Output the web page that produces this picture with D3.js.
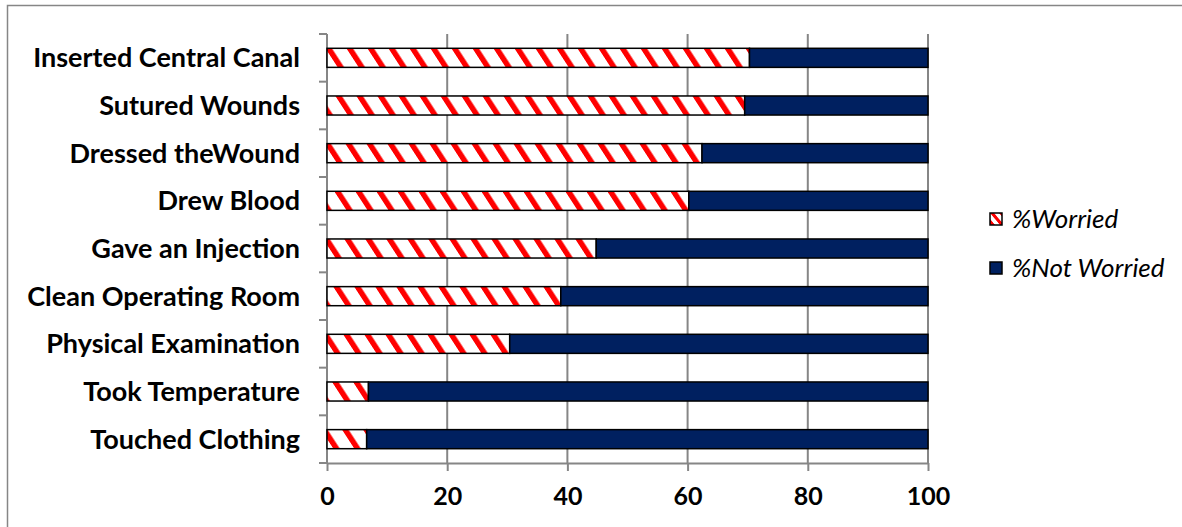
<!DOCTYPE html>
<html>
<head>
<meta charset="utf-8">
<script src="https://cdn.jsdelivr.net/npm/d3@7"></script>
<style>
  html, body { margin: 0; padding: 0; background: #fff; }
  svg { display: block; }
</style>
</head>
<body>
<div id="chart"></div>
<script>
// Procedures, listed top to bottom
const categories = [
  "Inserted Central Canal",
  "Sutured Wounds",
  "Dressed theWound",
  "Drew Blood",
  "Gave an Injection",
  "Clean Operating Room",
  "Physical Examination",
  "Took Temperature",
  "Touched Clothing"
];
// Share of respondents worried / not worried (%)
const worried    = [70.3, 69.5, 62.4, 60.2, 44.8, 38.9, 30.4, 6.9, 6.6];
const notWorried = [29.7, 30.5, 37.6, 39.8, 55.2, 61.1, 69.6, 93.1, 93.4];
const seriesNames = ["%Worried", "%Not Worried"];
const xTicks = [0, 20, 40, 60, 80, 100];

const W = 1182, H = 527;
const margin = { left: 327, right: 254, top: 34, bottom: 64 };
const navy = "#002060";
const gridColor = "#868686";
const font = "Lato, 'Open Sans', sans-serif";

const svg = d3.select("#chart").append("svg")
  .attr("width", W).attr("height", H);

// hatched fill for the worried share
const defs = svg.append("defs");
const pat = defs.append("pattern")
  .attr("id", "hatch")
  .attr("patternUnits", "userSpaceOnUse")
  .attr("width", 21).attr("height", 21)
  .attr("patternTransform", "skewX(33)");
pat.append("rect").attr("width", 21).attr("height", 21).attr("fill", "#fff");
pat.append("rect").attr("x", 0).attr("width", 6.5).attr("height", 21).attr("fill", "#ff0000");

const legPat = defs.append("pattern")
  .attr("id", "hatchLegend")
  .attr("patternUnits", "userSpaceOnUse")
  .attr("width", 9).attr("height", 9)
  .attr("patternTransform", "translate(990,213) skewX(40)");
legPat.append("rect").attr("width", 9).attr("height", 9).attr("fill", "#fff");
legPat.append("rect").attr("x", 0).attr("width", 4).attr("height", 9).attr("fill", "#ff0000");

// outer frame
svg.append("rect")
  .attr("x", 7.5).attr("y", 5.5)
  .attr("width", W).attr("height", H)
  .attr("fill", "none").attr("stroke", gridColor).attr("stroke-width", 1.5);

const x = d3.scaleLinear().domain([0, 100]).range([margin.left, W - margin.right]);
const y = d3.scaleBand().domain(categories)
  .range([margin.top, H - margin.bottom])
  .paddingInner(0.6).paddingOuter(0.3);

const plotTop = margin.top, plotBottom = H - margin.bottom;

// vertical gridlines
svg.append("g").selectAll("line")
  .data(xTicks.filter(d => d > 0))
  .join("line")
  .attr("x1", d => x(d)).attr("x2", d => x(d))
  .attr("y1", plotTop).attr("y2", plotBottom)
  .attr("stroke", gridColor).attr("stroke-width", 2);

// bottom axis
const xAxis = svg.append("g")
  .attr("transform", `translate(0,${plotBottom})`)
  .call(d3.axisBottom(x).tickValues(xTicks).tickSize(8).tickSizeOuter(0));
xAxis.select(".domain").attr("stroke", gridColor).attr("stroke-width", 2);
xAxis.selectAll(".tick line").attr("stroke", gridColor).attr("stroke-width", 2);
xAxis.selectAll(".tick text")
  .attr("fill", "#000")
  .attr("y", 33).attr("dy", "0.35em")
  .style("font-family", font).style("font-weight", "bold").style("font-size", "25px");

// left axis with ticks at band boundaries
const boundaries = d3.range(categories.length + 1).map(i => plotTop + i * (plotBottom - plotTop) / categories.length);
svg.append("line")
  .attr("x1", x(0)).attr("x2", x(0))
  .attr("y1", plotTop).attr("y2", plotBottom)
  .attr("stroke", gridColor).attr("stroke-width", 2);
svg.append("g").selectAll("line")
  .data(boundaries)
  .join("line")
  .attr("x1", x(0) - 8).attr("x2", x(0))
  .attr("y1", d => d).attr("y2", d => d)
  .attr("stroke", gridColor).attr("stroke-width", 2);

// category labels
svg.append("g").selectAll("text")
  .data(categories)
  .join("text")
  .attr("x", 300)
  .attr("y", d => y(d) + y.bandwidth() / 2)
  .attr("dy", "0.35em")
  .attr("text-anchor", "end")
  .style("font-family", font).style("font-weight", "bold").style("font-size", "27px")
  .text(d => d);

// stacked bars
const rows = categories.map((c, i) => ({ c, w: worried[i], n: notWorried[i] }));
const bars = svg.append("g");
bars.selectAll("rect.worried")
  .data(rows)
  .join("rect")
  .attr("class", "worried")
  .attr("x", x(0))
  .attr("y", d => y(d.c))
  .attr("width", d => x(d.w) - x(0))
  .attr("height", y.bandwidth())
  .attr("fill", "url(#hatch)")
  .attr("stroke", "#000").attr("stroke-width", 1.5);
bars.selectAll("rect.not")
  .data(rows)
  .join("rect")
  .attr("class", "not")
  .attr("x", d => x(d.w))
  .attr("y", d => y(d.c))
  .attr("width", d => x(d.w + d.n) - x(d.w))
  .attr("height", y.bandwidth())
  .attr("fill", navy)
  .attr("stroke", "#000").attr("stroke-width", 1.5);

// legend
const legend = svg.append("g");
const legendY = [219, 268];
const fills = ["url(#hatchLegend)", navy];
seriesNames.forEach((name, i) => {
  legend.append("rect")
    .attr("x", 990).attr("y", legendY[i] - 6)
    .attr("width", 12).attr("height", 12)
    .attr("fill", fills[i])
    .attr("stroke", "#000").attr("stroke-width", 1.5);
  legend.append("text")
    .attr("x", 1012).attr("y", legendY[i])
    .attr("dy", "0.35em")
    .style("font-family", font).style("font-style", "italic").style("font-size", "26px")
    .text(name);
});
</script>
</body>
</html>
